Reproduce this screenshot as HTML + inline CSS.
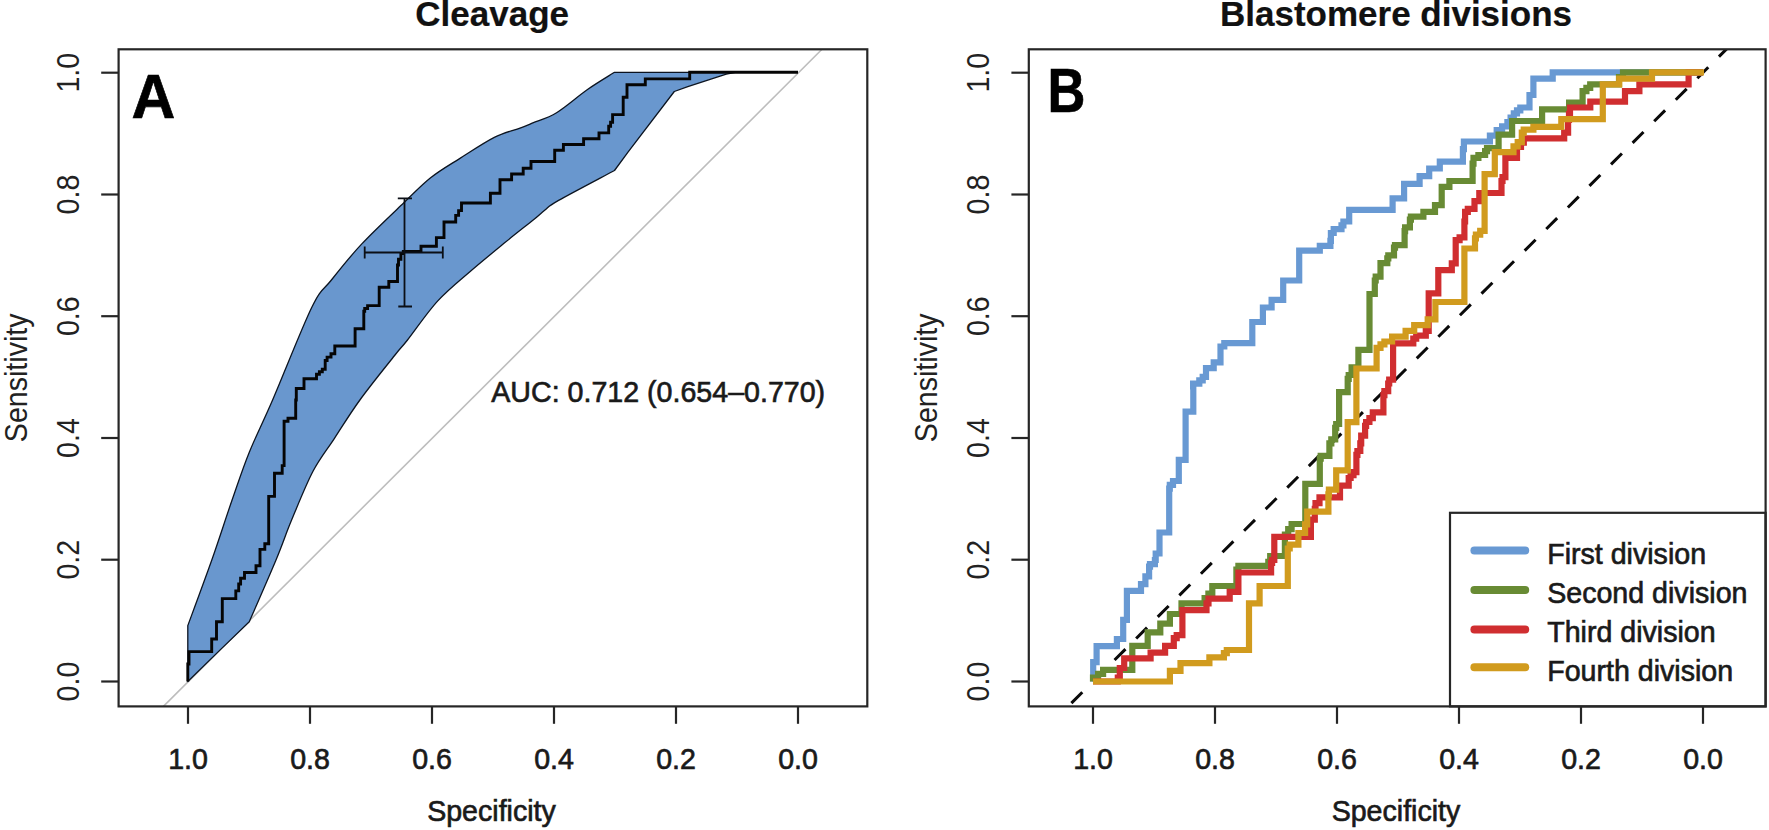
<!DOCTYPE html>
<html lang="en">
<head>
<meta charset="utf-8">
<title>ROC curves: Cleavage and Blastomere divisions</title>
<style>
html,body{margin:0;padding:0;background:#fff;}
body{width:1769px;height:830px;overflow:hidden;}
svg{display:block;}
text{font-family:"Liberation Sans",Arial,Helvetica,sans-serif;fill:#1a1a1a;}
.ax{font-size:28.6px;stroke:#1a1a1a;stroke-width:0.65px;}
.rot{stroke:none;fill:#222;}
.ttl{font-size:35.0px;font-weight:bold;fill:#111;stroke:#111;stroke-width:0.2px;}
.pl{font-size:62.5px;font-weight:bold;fill:#000;stroke:#000;stroke-width:0.7px;}
</style>
</head>
<body>
<svg width="1769" height="830" viewBox="0 0 1769 830">
<rect width="1769" height="830" fill="#ffffff"/>
<defs><clipPath id="cl"><rect x="118.6" y="49.3" width="748.7" height="657.1"/></clipPath><clipPath id="cr"><rect x="1028.8" y="49.3" width="736.8" height="657.1"/></clipPath></defs>
<g clip-path="url(#cl)">
<line x1="163.4" y1="706.4" x2="822" y2="49.3" stroke="#bdbdbd" stroke-width="1.6"/>
<path d="M187.8,681.5 L187.8,625.6 C191.8,614.7 204.4,580.9 211.8,560.0 C219.2,539.1 225.7,518.3 232.0,500.3 C238.3,482.3 242.6,468.7 249.4,452.0 C256.2,435.3 262.2,424.1 272.6,400.0 C283.0,375.9 302.0,327.4 311.7,307.5 C321.4,287.6 322.6,291.1 331.0,280.5 C339.4,269.9 349.7,256.8 361.8,243.9 C373.9,231.0 392.1,214.0 403.6,203.0 C415.1,192.0 421.3,185.2 430.6,177.8 C439.9,170.4 449.0,165.3 459.6,158.6 C470.2,151.9 484.2,142.5 494.3,137.4 C504.4,132.3 513.6,130.5 520.0,128.1 C526.4,125.7 526.7,125.5 532.8,122.9 C538.9,120.3 547.5,118.3 556.6,112.7 C565.7,107.1 577.9,96.2 587.5,89.5 C597.1,82.8 610.0,75.2 614.5,72.3 L735.2,72.3 L726.3,74.1 L687.8,86.6 L674.3,91.5 L628,152.2 L614.5,170.5 C605.2,175.5 570.2,193.8 558.6,200.4 C547.0,207.0 549.2,206.7 545.0,210.0 C540.8,213.3 540.0,214.5 533.2,220.0 C526.4,225.5 514.9,234.4 504.3,243.1 C493.7,251.8 480.7,262.4 469.6,272.0 C458.5,281.6 448.2,289.6 437.8,300.9 C427.4,312.2 414.7,330.9 407.5,340.0 C400.3,349.1 402.5,345.5 394.6,355.5 C386.7,365.5 369.9,386.1 359.9,400.0 C349.8,413.9 342.1,426.7 334.3,438.6 C326.5,450.5 320.1,457.8 313.0,471.3 C305.9,484.8 298.0,504.8 291.8,519.6 C285.6,534.4 283.1,543.0 276.0,560.0 C268.9,577.0 253.8,611.4 249.3,621.7 L219.4,650.6 L187.8,681.5Z" fill="#6997ce" stroke="#0c1420" stroke-width="1.3" stroke-linejoin="round"/>
<path d="M187.8,681.5 L187.8,664.0 L189.0,664.0 L189.0,651.6 L211.7,651.6 L211.7,639.0 L216.5,639.0 L216.5,629.4 L216.5,621.7 L218.5,621.7 L222.3,621.7 L222.3,598.6 L235.8,598.6 L235.8,596.6 L235.8,590.9 L238.7,590.9 L238.7,584.0 L240.6,584.0 L240.6,578.3 L244.5,578.3 L244.5,572.5 L248.3,572.5 L256.0,572.5 L256.0,571.6 L256.0,565.8 L260.0,565.8 L260.0,549.4 L264.8,549.4 L264.8,548.5 L264.8,543.7 L268.7,543.7 L268.7,504.0 L268.7,496.4 L270.6,496.4 L274.5,496.4 L274.5,494.5 L274.5,473.3 L282.2,473.3 L282.2,471.3 L282.2,465.6 L284.1,465.6 L284.1,425.0 L284.1,421.2 L288.0,421.2 L288.0,418.3 L291.8,418.3 L295.7,418.3 L295.7,417.4 L295.7,402.0 L295.7,400.0 L296.3,400.0 L296.3,388.5 L304.0,388.5 L304.0,387.5 L304.0,378.8 L307.8,378.8 L316.5,378.8 L316.5,376.9 L316.5,374.3 L319.4,374.3 L319.4,371.8 L322.3,371.8 L322.3,369.2 L325.2,369.2 L325.2,360.5 L327.1,360.5 L327.1,357.1 L331.0,357.1 L331.0,353.8 L334.8,353.8 L334.8,346.0 L336.8,346.0 L355.1,346.0 L355.1,328.7 L363.8,328.7 L363.8,311.3 L364.7,311.3 L364.7,308.5 L367.6,308.5 L367.6,305.6 L370.5,305.6 L379.2,305.6 L379.2,303.6 L379.2,287.2 L381.1,287.2 L388.8,287.2 L388.8,286.3 L388.8,281.5 L389.8,281.5 L397.5,281.5 L397.5,279.5 L397.5,265.0 L398.5,265.0 L398.5,259.2 L400.9,259.2 L400.9,253.5 L403.3,253.5 L403.3,251.5 L404.5,251.5 L421.0,251.5 L421.0,251.0 L421.0,246.3 L422.0,246.3 L436.4,246.3 L436.4,245.3 L436.4,237.6 L440.3,237.6 L444.0,237.6 L444.0,235.7 L444.0,222.0 L447.0,222.0 L455.7,222.0 L455.7,220.3 L455.7,215.4 L458.6,215.4 L458.6,210.6 L461.5,210.6 L461.5,203.0 L490.4,203.0 L490.4,193.3 L500.0,193.3 L500.0,192.3 L500.0,179.8 L503.0,179.8 L511.6,179.8 L511.6,177.8 L511.6,174.0 L515.5,174.0 L523.2,174.0 L523.2,173.0 L523.2,168.2 L527.0,168.2 L531.0,168.2 L531.0,166.3 L531.0,161.5 L532.8,161.5 L554.7,161.5 L554.7,160.7 L554.7,150.3 L556.6,150.3 L563.4,150.3 L563.4,149.3 L563.4,144.5 L564.4,144.5 L583.6,144.5 L583.6,143.5 L583.6,138.7 L585.6,138.7 L599.0,138.7 L599.0,137.7 L599.0,132.9 L601.0,132.9 L608.7,132.9 L608.7,132.0 L608.7,126.2 L610.6,126.2 L610.6,122.3 L612.6,122.3 L612.6,114.6 L614.5,114.6 L623.2,114.6 L623.2,113.6 L623.2,97.2 L624.1,97.2 L627.0,97.2 L627.0,95.3 L627.0,84.7 L628.0,84.7 L645.3,84.7 L645.3,83.7 L645.3,78.9 L646.3,78.9 L689.7,78.9 L689.7,72.3 L798.0,72.3" fill="none" stroke="#050505" stroke-width="2.9" stroke-linejoin="miter"/>
<g stroke="#0b0f16" stroke-width="1.8" fill="none"><path d="M364.7,252.5 H442.8 M364.7,246.5 V258.5 M442.8,246.5 V258.5"/><path d="M404.5,198.3 V306.5 M397.8,198.3 H412 M398.3,306.5 H412"/></g>
</g>
<rect x="118.6" y="49.3" width="748.7" height="657.1" fill="none" stroke="#262626" stroke-width="2.2"/>
<line x1="188" y1="706.4" x2="188" y2="723.8" stroke="#262626" stroke-width="2.2"/>
<text x="188" y="769.2" text-anchor="middle" class="ax">1.0</text>
<line x1="310" y1="706.4" x2="310" y2="723.8" stroke="#262626" stroke-width="2.2"/>
<text x="310" y="769.2" text-anchor="middle" class="ax">0.8</text>
<line x1="432" y1="706.4" x2="432" y2="723.8" stroke="#262626" stroke-width="2.2"/>
<text x="432" y="769.2" text-anchor="middle" class="ax">0.6</text>
<line x1="554" y1="706.4" x2="554" y2="723.8" stroke="#262626" stroke-width="2.2"/>
<text x="554" y="769.2" text-anchor="middle" class="ax">0.4</text>
<line x1="676" y1="706.4" x2="676" y2="723.8" stroke="#262626" stroke-width="2.2"/>
<text x="676" y="769.2" text-anchor="middle" class="ax">0.2</text>
<line x1="798" y1="706.4" x2="798" y2="723.8" stroke="#262626" stroke-width="2.2"/>
<text x="798" y="769.2" text-anchor="middle" class="ax">0.0</text>
<line x1="101.2" y1="681.5" x2="118.6" y2="681.5" stroke="#262626" stroke-width="2.2"/>
<text transform="translate(78.9,681.5) rotate(-90) scale(1,1.12)" text-anchor="middle" class="ax rot">0.0</text>
<line x1="101.2" y1="559.7" x2="118.6" y2="559.7" stroke="#262626" stroke-width="2.2"/>
<text transform="translate(78.9,559.7) rotate(-90) scale(1,1.12)" text-anchor="middle" class="ax rot">0.2</text>
<line x1="101.2" y1="438.0" x2="118.6" y2="438.0" stroke="#262626" stroke-width="2.2"/>
<text transform="translate(78.9,438.0) rotate(-90) scale(1,1.12)" text-anchor="middle" class="ax rot">0.4</text>
<line x1="101.2" y1="316.2" x2="118.6" y2="316.2" stroke="#262626" stroke-width="2.2"/>
<text transform="translate(78.9,316.2) rotate(-90) scale(1,1.12)" text-anchor="middle" class="ax rot">0.6</text>
<line x1="101.2" y1="194.5" x2="118.6" y2="194.5" stroke="#262626" stroke-width="2.2"/>
<text transform="translate(78.9,194.5) rotate(-90) scale(1,1.12)" text-anchor="middle" class="ax rot">0.8</text>
<line x1="101.2" y1="72.7" x2="118.6" y2="72.7" stroke="#262626" stroke-width="2.2"/>
<text transform="translate(78.9,72.7) rotate(-90) scale(1,1.12)" text-anchor="middle" class="ax rot">1.0</text>
<text x="491.5" y="821" text-anchor="middle" class="ax">Specificity</text>
<text transform="translate(26.5,377.8) rotate(-90) scale(1,1.12)" text-anchor="middle" class="ax rot">Sensitivity</text>
<text x="492.2" y="25.8" text-anchor="middle" class="ttl">Cleavage</text>
<text x="491.3" y="401.6" class="ax">AUC: 0.712 (0.654–0.770)</text>
<text transform="translate(131.5,118.1) scale(0.97,1.0)" class="pl">A</text>
<g clip-path="url(#cr)">
<line x1="1071.4" y1="703.1" x2="1728" y2="47.6" stroke="#0a0a0a" stroke-width="3.0" stroke-dasharray="15.4 15.1"/>
<path d="M1093.2,681.5 L1093.2,662.2 L1096.6,662.2 L1096.6,661.2 L1096.6,646.2 L1116.9,646.2 L1116.9,639.0 L1117.8,639.0 L1123.2,639.0 L1123.2,638.1 L1123.2,619.8 L1126.9,619.8 L1126.9,618.8 L1126.9,590.9 L1141.0,590.9 L1141.0,590.3 L1141.0,584.1 L1142.0,584.1 L1145.4,584.1 L1145.4,583.1 L1145.4,576.4 L1146.4,576.4 L1149.1,576.4 L1149.1,574.5 L1149.1,566.7 L1150.0,566.7 L1150.0,564.2 L1154.9,564.2 L1154.9,560.0 L1155.7,560.0 L1155.7,553.5 L1159.5,553.5 L1159.5,536.0 L1159.5,532.5 L1169.2,532.5 L1169.2,488.7 L1169.8,488.7 L1169.8,484.8 L1173.0,484.8 L1173.0,481.0 L1178.8,481.0 L1178.8,459.8 L1185.6,459.8 L1185.6,458.8 L1185.6,411.6 L1193.3,411.6 L1193.3,410.6 L1193.3,386.5 L1193.1,386.5 L1193.1,383.7 L1199.3,383.7 L1199.3,380.3 L1202.7,380.3 L1202.7,376.9 L1206.0,376.9 L1206.0,371.1 L1206.0,368.2 L1213.7,368.2 L1213.7,362.4 L1214.7,362.4 L1220.5,362.4 L1220.5,349.9 L1220.5,346.5 L1224.3,346.5 L1224.3,343.2 L1228.2,343.2 L1252.3,343.2 L1252.3,322.0 L1262.9,322.0 L1262.9,321.0 L1262.9,307.5 L1271.6,307.5 L1271.6,306.5 L1271.6,299.8 L1272.6,299.8 L1283.2,299.8 L1283.2,298.8 L1283.2,280.5 L1299.2,280.5 L1299.2,279.5 L1299.2,250.6 L1319.8,250.6 L1319.8,245.8 L1320.8,245.8 L1330.4,245.8 L1330.4,240.8 L1330.9,240.8 L1330.9,233.0 L1333.7,233.0 L1333.7,229.2 L1341.5,229.2 L1341.5,225.3 L1343.4,225.3 L1343.4,221.5 L1349.2,221.5 L1349.2,209.9 L1354.0,209.9 L1392.6,209.9 L1392.6,198.3 L1393.5,198.3 L1404.1,198.3 L1404.1,196.4 L1404.1,183.9 L1405.1,183.9 L1419.6,183.9 L1419.6,182.9 L1419.6,176.2 L1421.5,176.2 L1429.2,176.2 L1429.2,175.2 L1429.2,168.5 L1431.1,168.5 L1439.8,168.5 L1439.8,167.5 L1439.8,161.7 L1440.8,161.7 L1462.9,161.7 L1462.9,160.7 L1462.9,149.2 L1463.9,149.2 L1463.9,141.5 L1467.8,141.5 L1489.9,141.5 L1489.9,135.7 L1490.9,135.7 L1496.7,135.7 L1496.7,133.7 L1496.7,130.1 L1502.1,130.1 L1502.1,126.4 L1507.4,126.4 L1507.4,122.0 L1510.6,122.0 L1510.6,117.7 L1513.8,117.7 L1513.8,113.3 L1517.0,113.3 L1517.0,110.4 L1520.3,110.4 L1520.3,107.5 L1523.7,107.5 L1529.5,107.5 L1529.5,106.5 L1529.5,95.0 L1533.4,95.0 L1533.4,93.0 L1533.4,78.6 L1552.7,78.6 L1552.7,77.6 L1552.7,72.3 L1553.6,72.3 L1703.0,72.3" fill="none" stroke="#6899d3" stroke-width="6.2" stroke-linejoin="miter" stroke-linecap="butt"/>
<path d="M1093.0,681.5 L1093.0,677.6 L1098.1,677.6 L1098.1,673.8 L1103.1,673.8 L1103.1,669.9 L1108.2,669.9 L1132.3,669.9 L1132.3,645.8 L1135.2,645.8 L1147.7,645.8 L1147.7,644.8 L1147.7,632.3 L1148.7,632.3 L1160.3,632.3 L1160.3,631.3 L1160.3,623.6 L1162.2,623.6 L1169.9,623.6 L1169.9,621.7 L1169.9,614.0 L1171.8,614.0 L1181.5,614.0 L1181.5,613.0 L1181.5,603.4 L1185.3,603.4 L1204.6,603.4 L1204.6,602.4 L1204.6,598.0 L1208.4,598.0 L1208.4,593.7 L1212.3,593.7 L1212.3,586.0 L1216.2,586.0 L1236.4,586.0 L1236.4,585.0 L1236.4,569.6 L1238.4,569.6 L1238.4,565.8 L1243.2,565.8 L1268.3,565.8 L1268.3,561.9 L1270.2,561.9 L1270.2,556.0 L1272.0,556.0 L1284.9,556.0 L1284.9,555.0 L1284.9,540.0 L1284.9,534.6 L1288.2,534.6 L1288.2,529.2 L1291.6,529.2 L1291.6,524.0 L1305.3,524.0 L1305.3,483.8 L1306.3,483.8 L1319.8,483.8 L1319.8,482.8 L1319.8,458.7 L1320.7,458.7 L1320.7,455.8 L1329.4,455.8 L1329.4,443.3 L1331.3,443.3 L1331.3,439.4 L1335.2,439.4 L1335.2,427.8 L1336.2,427.8 L1336.2,424.0 L1339.1,424.0 L1339.1,392.2 L1340.0,392.2 L1347.7,392.2 L1347.7,391.2 L1347.7,378.8 L1348.7,378.8 L1348.7,375.0 L1351.6,375.0 L1351.6,367.3 L1352.6,367.3 L1358.4,367.3 L1358.4,365.3 L1358.4,349.9 L1359.3,349.9 L1369.5,349.9 L1369.5,348.9 L1369.5,297.8 L1369.5,294.0 L1374.8,294.0 L1374.8,280.5 L1375.7,280.5 L1375.7,276.6 L1380.5,276.6 L1380.5,267.0 L1380.5,263.1 L1387.3,263.1 L1387.3,258.3 L1388.3,258.3 L1388.3,255.4 L1394.0,255.4 L1394.0,247.7 L1395.0,247.7 L1395.0,245.1 L1404.6,245.1 L1404.6,231.1 L1405.1,231.1 L1405.1,227.3 L1409.9,227.3 L1409.9,219.6 L1410.9,219.6 L1410.9,216.7 L1415.7,216.7 L1423.4,216.7 L1423.4,215.7 L1423.4,211.8 L1427.3,211.8 L1435.0,211.8 L1435.0,209.9 L1435.0,205.1 L1436.9,205.1 L1441.7,205.1 L1441.7,204.1 L1441.7,186.8 L1449.4,186.8 L1449.4,185.8 L1449.4,181.0 L1454.3,181.0 L1472.6,181.0 L1472.6,163.6 L1473.5,163.6 L1473.5,157.8 L1478.4,157.8 L1478.4,155.0 L1485.1,155.0 L1485.1,151.1 L1487.0,151.1 L1487.0,148.2 L1498.6,148.2 L1498.6,134.7 L1512.1,134.7 L1512.1,132.8 L1512.1,121.0 L1513.5,121.0 L1542.1,121.0 L1542.1,120.0 L1542.1,109.4 L1544.0,109.4 L1569.1,109.4 L1569.1,108.5 L1569.1,102.7 L1571.0,102.7 L1582.6,102.7 L1582.6,100.7 L1582.6,91.1 L1586.4,91.1 L1586.4,87.8 L1590.2,87.8 L1590.2,84.4 L1594.1,84.4 L1619.0,84.4 L1619.0,82.4 L1619.0,77.0 L1623.0,77.0 L1623.0,72.3 L1627.0,72.3 L1703.0,72.3" fill="none" stroke="#688b34" stroke-width="6.2" stroke-linejoin="miter" stroke-linecap="butt"/>
<path d="M1093.0,681.5 L1117.8,681.5 L1117.8,681.0 L1117.8,677.6 L1119.8,677.6 L1119.8,668.0 L1124.2,668.0 L1124.2,658.3 L1128.5,658.3 L1150.6,658.3 L1150.6,657.4 L1150.6,652.6 L1152.6,652.6 L1165.1,652.6 L1165.1,651.6 L1165.1,645.8 L1166.1,645.8 L1173.8,645.8 L1173.8,643.9 L1173.8,638.1 L1176.7,638.1 L1176.7,635.2 L1182.4,635.2 L1182.4,610.1 L1206.5,610.1 L1206.5,609.2 L1206.5,603.4 L1208.5,603.4 L1208.5,598.6 L1212.3,598.6 L1229.7,598.6 L1229.7,597.6 L1229.7,591.8 L1231.6,591.8 L1238.4,591.8 L1238.4,590.9 L1238.4,572.5 L1239.3,572.5 L1271.1,572.5 L1271.1,571.6 L1271.1,562.9 L1272.1,562.9 L1272.1,560.0 L1274.3,560.0 L1274.3,536.9 L1279.1,536.9 L1310.9,536.9 L1310.9,535.9 L1310.9,519.6 L1314.8,519.6 L1314.8,508.8 L1315.5,508.8 L1315.5,503.1 L1319.5,503.1 L1319.5,497.3 L1323.6,497.3 L1340.0,497.3 L1340.0,495.3 L1340.0,485.7 L1342.9,485.7 L1348.7,485.7 L1348.7,483.8 L1348.7,478.0 L1350.6,478.0 L1350.6,475.1 L1353.5,475.1 L1353.5,472.2 L1356.4,472.2 L1356.4,454.8 L1357.4,454.8 L1357.4,451.0 L1360.3,451.0 L1360.3,443.3 L1361.2,443.3 L1361.2,435.6 L1365.1,435.6 L1365.1,425.9 L1366.1,425.9 L1366.1,422.0 L1369.4,422.0 L1369.4,418.2 L1372.8,418.2 L1372.8,412.4 L1377.6,412.4 L1383.4,412.4 L1383.4,395.1 L1384.4,395.1 L1384.4,391.2 L1388.2,391.2 L1388.2,383.5 L1389.2,383.5 L1389.2,379.6 L1393.1,379.6 L1393.1,348.2 L1393.1,343.4 L1399.8,343.4 L1413.3,343.4 L1413.3,341.5 L1413.3,338.6 L1416.2,338.6 L1416.2,335.7 L1419.1,335.7 L1425.8,335.7 L1425.8,334.7 L1425.8,330.9 L1428.7,330.9 L1428.7,293.3 L1438.3,293.3 L1438.3,292.3 L1438.3,270.1 L1441.2,270.1 L1451.8,270.1 L1451.8,268.2 L1451.8,263.4 L1452.8,263.4 L1455.7,263.4 L1455.7,262.4 L1455.7,246.0 L1455.7,240.2 L1459.6,240.2 L1459.6,237.4 L1464.4,237.4 L1464.4,221.5 L1465.1,221.5 L1465.1,211.8 L1467.8,211.8 L1467.8,208.9 L1474.5,208.9 L1474.5,201.2 L1479.3,201.2 L1479.3,193.0 L1484.0,193.0 L1501.5,193.0 L1501.5,192.6 L1501.5,181.0 L1502.5,181.0 L1502.5,177.1 L1505.4,177.1 L1505.4,163.6 L1505.4,157.8 L1509.2,157.8 L1517.0,157.8 L1517.0,155.7 L1517.0,147.0 L1521.0,147.0 L1521.0,142.7 L1523.8,142.7 L1523.8,138.3 L1526.6,138.3 L1564.2,138.3 L1564.2,132.6 L1568.1,132.6 L1568.1,120.0 L1569.0,120.0 L1569.0,114.2 L1570.0,114.2 L1570.0,107.5 L1571.0,107.5 L1590.3,107.5 L1590.3,106.5 L1590.3,101.7 L1591.2,101.7 L1625.0,101.7 L1625.0,91.1 L1639.4,91.1 L1639.4,90.1 L1639.4,84.4 L1640.4,84.4 L1688.6,84.4 L1688.6,72.3 L1703.0,72.3" fill="none" stroke="#d02e30" stroke-width="6.2" stroke-linejoin="miter" stroke-linecap="butt"/>
<path d="M1093.0,681.5 L1169.9,681.5 L1169.9,681.0 L1169.9,670.9 L1180.5,670.9 L1180.5,669.9 L1180.5,663.2 L1209.4,663.2 L1209.4,662.2 L1209.4,657.4 L1210.4,657.4 L1223.9,657.4 L1223.9,656.4 L1223.9,653.2 L1226.8,653.2 L1226.8,650.0 L1229.7,650.0 L1249.0,650.0 L1249.0,603.4 L1259.6,603.4 L1259.6,586.0 L1287.8,586.0 L1287.8,560.0 L1287.8,548.5 L1289.7,548.5 L1289.7,544.6 L1298.4,544.6 L1298.4,533.0 L1299.3,533.0 L1305.1,533.0 L1305.1,531.1 L1305.1,524.3 L1307.2,524.3 L1307.2,511.7 L1307.6,511.7 L1328.4,511.7 L1328.4,511.3 L1328.4,494.4 L1328.9,494.4 L1328.9,489.6 L1336.2,489.6 L1336.2,470.3 L1337.0,470.3 L1347.7,470.3 L1347.7,422.1 L1356.4,422.1 L1356.4,421.1 L1356.4,368.5 L1376.6,368.5 L1376.6,367.5 L1376.6,351.1 L1376.6,347.8 L1380.5,347.8 L1380.5,344.4 L1384.4,344.4 L1384.4,341.5 L1392.1,341.5 L1392.1,336.7 L1397.8,336.7 L1405.6,336.7 L1405.6,334.7 L1405.6,330.9 L1409.4,330.9 L1414.2,330.9 L1414.2,329.9 L1414.2,325.1 L1417.1,325.1 L1427.7,325.1 L1427.7,323.2 L1427.7,319.3 L1429.7,319.3 L1435.4,319.3 L1435.4,318.3 L1435.4,302.0 L1464.4,302.0 L1464.4,301.0 L1464.4,248.5 L1464.6,248.5 L1475.0,248.5 L1475.0,247.2 L1475.0,238.3 L1475.9,238.3 L1475.9,234.6 L1480.2,234.6 L1480.2,230.8 L1484.6,230.8 L1484.6,174.2 L1485.1,174.2 L1494.8,174.2 L1494.8,173.3 L1494.8,152.1 L1495.7,152.1 L1513.5,152.1 L1513.5,150.5 L1513.5,146.3 L1517.7,146.3 L1517.7,142.2 L1521.8,142.2 L1521.8,132.6 L1523.7,132.6 L1523.7,129.7 L1533.4,129.7 L1533.4,126.8 L1536.3,126.8 L1561.3,126.8 L1561.3,119.1 L1564.2,119.1 L1602.8,119.1 L1602.8,84.4 L1619.2,84.4 L1619.2,83.4 L1619.2,78.6 L1625.0,78.6 L1652.0,78.6 L1652.0,72.3 L1652.9,72.3 L1704.0,72.3" fill="none" stroke="#d19b1e" stroke-width="6.2" stroke-linejoin="miter" stroke-linecap="butt"/>
</g>
<rect x="1450" y="512.8" width="315.6" height="193.6" fill="#ffffff" stroke="#262626" stroke-width="2.2"/>
<line x1="1474.4" y1="550.5" x2="1525.2" y2="550.5" stroke="#6899d3" stroke-width="8.0" stroke-linecap="round"/>
<text x="1547.2" y="563.9" class="ax">First division</text>
<line x1="1474.4" y1="590.0" x2="1525.2" y2="590.0" stroke="#688b34" stroke-width="8.0" stroke-linecap="round"/>
<text x="1547.2" y="602.9" class="ax">Second division</text>
<line x1="1474.4" y1="629.4" x2="1525.2" y2="629.4" stroke="#d02e30" stroke-width="8.0" stroke-linecap="round"/>
<text x="1547.2" y="641.9" class="ax">Third division</text>
<line x1="1474.4" y1="667.3" x2="1525.2" y2="667.3" stroke="#d19b1e" stroke-width="8.0" stroke-linecap="round"/>
<text x="1547.2" y="680.9" class="ax">Fourth division</text>
<rect x="1028.8" y="49.3" width="736.8" height="657.1" fill="none" stroke="#262626" stroke-width="2.2"/>
<line x1="1093" y1="706.4" x2="1093" y2="723.8" stroke="#262626" stroke-width="2.2"/>
<text x="1093" y="769.2" text-anchor="middle" class="ax">1.0</text>
<line x1="1215" y1="706.4" x2="1215" y2="723.8" stroke="#262626" stroke-width="2.2"/>
<text x="1215" y="769.2" text-anchor="middle" class="ax">0.8</text>
<line x1="1337" y1="706.4" x2="1337" y2="723.8" stroke="#262626" stroke-width="2.2"/>
<text x="1337" y="769.2" text-anchor="middle" class="ax">0.6</text>
<line x1="1459" y1="706.4" x2="1459" y2="723.8" stroke="#262626" stroke-width="2.2"/>
<text x="1459" y="769.2" text-anchor="middle" class="ax">0.4</text>
<line x1="1581" y1="706.4" x2="1581" y2="723.8" stroke="#262626" stroke-width="2.2"/>
<text x="1581" y="769.2" text-anchor="middle" class="ax">0.2</text>
<line x1="1703" y1="706.4" x2="1703" y2="723.8" stroke="#262626" stroke-width="2.2"/>
<text x="1703" y="769.2" text-anchor="middle" class="ax">0.0</text>
<line x1="1011.4" y1="681.5" x2="1028.8" y2="681.5" stroke="#262626" stroke-width="2.2"/>
<text transform="translate(989.1,681.5) rotate(-90) scale(1,1.12)" text-anchor="middle" class="ax rot">0.0</text>
<line x1="1011.4" y1="559.7" x2="1028.8" y2="559.7" stroke="#262626" stroke-width="2.2"/>
<text transform="translate(989.1,559.7) rotate(-90) scale(1,1.12)" text-anchor="middle" class="ax rot">0.2</text>
<line x1="1011.4" y1="438.0" x2="1028.8" y2="438.0" stroke="#262626" stroke-width="2.2"/>
<text transform="translate(989.1,438.0) rotate(-90) scale(1,1.12)" text-anchor="middle" class="ax rot">0.4</text>
<line x1="1011.4" y1="316.2" x2="1028.8" y2="316.2" stroke="#262626" stroke-width="2.2"/>
<text transform="translate(989.1,316.2) rotate(-90) scale(1,1.12)" text-anchor="middle" class="ax rot">0.6</text>
<line x1="1011.4" y1="194.5" x2="1028.8" y2="194.5" stroke="#262626" stroke-width="2.2"/>
<text transform="translate(989.1,194.5) rotate(-90) scale(1,1.12)" text-anchor="middle" class="ax rot">0.8</text>
<line x1="1011.4" y1="72.7" x2="1028.8" y2="72.7" stroke="#262626" stroke-width="2.2"/>
<text transform="translate(989.1,72.7) rotate(-90) scale(1,1.12)" text-anchor="middle" class="ax rot">1.0</text>
<text x="1396" y="821" text-anchor="middle" class="ax">Specificity</text>
<text transform="translate(936.7,377.8) rotate(-90) scale(1,1.12)" text-anchor="middle" class="ax rot">Sensitivity</text>
<text x="1396" y="25.8" text-anchor="middle" class="ttl">Blastomere divisions</text>
<text transform="translate(1047.5,112.3) scale(0.84,1.0)" class="pl">B</text>
</svg>
</body>
</html>
